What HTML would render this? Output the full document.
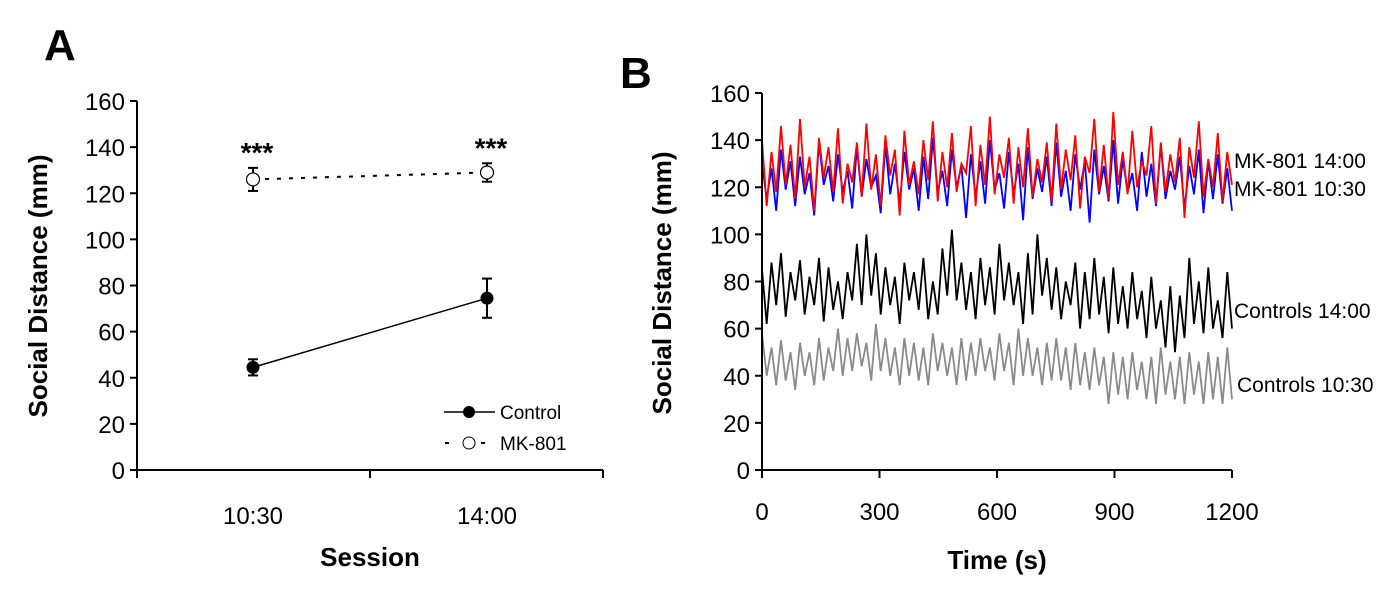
<!DOCTYPE html>
<html><head><meta charset="utf-8"><style>
html,body{margin:0;padding:0;background:#fff;}
svg{display:block;font-family:"Liberation Sans",Arial,sans-serif;}
</style></head><body>
<svg id="chart" width="1397" height="590" viewBox="0 0 1397 590">
<text x="44" y="60" font-size="44" font-weight="bold">A</text>
<text x="620" y="88" font-size="44" font-weight="bold">B</text>
<g id="pa"></g>
<g id="pb"></g>
</svg>
<script>
// Panel A data
const sessions = ["10:30","14:00"];
const controlMean = [44.5, 74.5];
const controlErr = [3.5, 8.5];
const mkMean = [126, 129];
const mkErr = [5, 4];
const yTicksA = [0,20,40,60,80,100,120,140,160];
// Panel B data
const yTicksB = [0,20,40,60,80,100,120,140,160];
const xTicksB = [0,300,600,900,1200];
const mk1400 = [140,112,135,118,146,121,138,115,149,120,133,110,141,124,137,118,145,113,130,122,139,116,147,119,134,112,142,125,136,108,144,121,131,117,140,123,148,114,135,120,143,118,130,126,146,112,138,121,150,117,134,124,141,113,137,120,145,116,132,122,139,114,147,119,136,123,142,111,133,126,149,118,138,115,152,121,135,117,144,120,131,125,146,113,139,118,134,122,141,107,137,124,148,116,132,120,143,114,135,121];
const mk1030 = [130,115,128,110,136,119,131,112,133,117,126,108,139,121,129,114,134,118,127,111,137,116,132,120,125,109,138,117,130,113,135,119,128,110,133,115,141,118,127,112,136,120,129,107,134,116,131,113,140,119,126,111,135,117,130,106,137,115,128,118,133,112,139,116,127,110,134,119,131,105,136,117,129,114,140,113,132,118,126,110,135,116,130,112,138,115,127,119,133,111,129,117,136,109,131,115,134,113,128,110];
const ctl1400 = [85,62,88,70,92,65,84,72,89,66,82,70,90,63,86,68,80,64,84,72,96,70,100,74,92,66,86,70,82,62,88,72,84,68,90,64,80,66,94,74,102,72,88,68,84,64,90,70,86,66,96,72,88,70,84,62,92,66,100,74,90,68,86,64,80,70,88,60,84,64,90,66,82,58,86,62,78,60,84,64,76,56,82,60,72,52,78,50,74,56,90,62,80,58,86,60,72,56,84,60];
const ctl1030 = [58,40,52,36,55,38,50,34,54,40,50,36,56,38,52,42,60,40,56,42,58,44,54,38,62,42,56,40,52,36,56,40,54,38,52,36,58,42,54,40,52,36,56,38,54,40,56,42,52,38,58,42,54,36,60,40,56,40,52,36,54,38,56,38,52,34,54,36,50,34,52,36,48,28,50,32,48,30,50,34,46,30,48,28,52,32,46,30,48,28,50,32,46,28,50,30,48,28,52,30];
const seriesB = [
 {name:"controls-1030", data:ctl1030, color:"#8a8a8a"},
 {name:"controls-1400", data:ctl1400, color:"#000000"},
 {name:"mk801-1030", data:mk1030, color:"#0000ff"},
 {name:"mk801-1400", data:mk1400, color:"#ff0000"}
];

const NS="http://www.w3.org/2000/svg";
function mk(tag,attrs,parent,text){const e=document.createElementNS(NS,tag);for(const k in attrs)e.setAttribute(k,attrs[k]);if(text!==undefined)e.textContent=text;parent.appendChild(e);return e;}

// ---- Panel A ----
const pa=document.getElementById('pa');
const ax0=137, ax1=603, ay0=470, ay1=101;
const yA=v=>ay0-(v/160)*(ay0-ay1);
const xA=i=>[253,487][i];
let e;
e=mk('line',{x1:ax0,y1:ay1,x2:ax0,y2:ay0,stroke:'#000','stroke-width':2},pa);


e=mk('line',{x1:ax0,y1:ay0,x2:ax1,y2:ay0,stroke:'#000','stroke-width':2},pa);


[ax0,370,ax1].forEach(x=>{mk('line',{x1:x,y1:ay0,x2:x,y2:ay0+8,stroke:'#000','stroke-width':2},pa);});
yTicksA.forEach(t=>{
  mk('line',{x1:ax0-7,y1:yA(t),x2:ax0,y2:yA(t),stroke:'#000','stroke-width':2},pa);
  e=mk('text',{x:ax0-12,y:yA(t)+9,'font-size':24,'text-anchor':'end'},pa,t);
  
  
});
sessions.forEach((s,i)=>{
  e=mk('text',{x:xA(i),y:524,'font-size':24,'text-anchor':'middle'},pa,s);
  
  
  e=mk('text',{x:xA(i)+4,y:yA(mkMean[i]+mkErr[i])-6,'font-size':28,'font-weight':'bold','text-anchor':'middle'},pa,'***');
  
  
});
e=mk('text',{x:370,y:566,'font-size':26,'font-weight':'bold','text-anchor':'middle'},pa,'Session');


e=mk('text',{x:0,y:0,'font-size':26,'font-weight':'bold','text-anchor':'middle',transform:'translate(47,286) rotate(-90)'},pa,'Social Distance (mm)');


e=mk('line',{x1:xA(0),y1:yA(controlMean[0]),x2:xA(1),y2:yA(controlMean[1]),stroke:'#000','stroke-width':1.5},pa);


e=mk('line',{x1:xA(0),y1:yA(mkMean[0]),x2:xA(1),y2:yA(mkMean[1]),stroke:'#000','stroke-width':2,'stroke-dasharray':'4,8'},pa);


function errbar(i,m,er){
  const x=xA(i);
  mk('line',{x1:x,y1:yA(m-er),x2:x,y2:yA(m+er),stroke:'#000','stroke-width':2},pa);
  mk('line',{x1:x-5,y1:yA(m-er),x2:x+5,y2:yA(m-er),stroke:'#000','stroke-width':2},pa);
  mk('line',{x1:x-5,y1:yA(m+er),x2:x+5,y2:yA(m+er),stroke:'#000','stroke-width':2},pa);
}
for(let i=0;i<2;i++){
  errbar(i,controlMean[i],controlErr[i]);
  e=mk('circle',{cx:xA(i),cy:yA(controlMean[i]),r:6.5,fill:'#000'},pa);
  
  
  errbar(i,mkMean[i],mkErr[i]);
  e=mk('circle',{cx:xA(i),cy:yA(mkMean[i]),r:6.5,fill:'#fff',stroke:'#000','stroke-width':1.2},pa);
  
  
}
const lg=mk('g',{},pa);


mk('line',{x1:444,y1:412,x2:495,y2:412,stroke:'#000','stroke-width':1.5},lg);
mk('circle',{cx:469,cy:412,r:6,fill:'#000'},lg);
e=mk('text',{x:500,y:419,'font-size':19},lg,'Control');


mk('line',{x1:445,y1:443,x2:495,y2:443,stroke:'#000','stroke-width':2,'stroke-dasharray':'4,14'},lg);
mk('circle',{cx:469,cy:443,r:6,fill:'#fff',stroke:'#000'},lg);
e=mk('text',{x:500,y:450,'font-size':19},lg,'MK-801');



// ---- Panel B ----
const pb=document.getElementById('pb');
const bx0=762, bx1=1232, by0=470, by1=93;
const yB=v=>by0-(v/160)*(by0-by1);
const xB=t=>bx0+(t/1200)*(bx1-bx0);
seriesB.forEach(s=>{
  const n=s.data.length;
  const pts=s.data.map((v,i)=>xB(i*1200/(n-1)).toFixed(1)+','+yB(v).toFixed(1)).join(' ');
  e=mk('polyline',{points:pts,fill:'none',stroke:s.color,'stroke-width':1.8,'stroke-linejoin':'miter'},pb);
  
  
});
e=mk('line',{x1:bx0,y1:by1,x2:bx0,y2:by0,stroke:'#000','stroke-width':2},pb);


e=mk('line',{x1:bx0,y1:by0,x2:bx1,y2:by0,stroke:'#000','stroke-width':2},pb);


yTicksB.forEach(t=>{
  mk('line',{x1:bx0-7,y1:yB(t),x2:bx0,y2:yB(t),stroke:'#000','stroke-width':2},pb);
  e=mk('text',{x:bx0-12,y:yB(t)+9,'font-size':24,'text-anchor':'end'},pb,t);
  
  
});
xTicksB.forEach(t=>{
  mk('line',{x1:xB(t),y1:by0,x2:xB(t),y2:by0+8,stroke:'#000','stroke-width':2},pb);
  e=mk('text',{x:xB(t),y:520,'font-size':24,'text-anchor':'middle'},pb,t);
  
  
});
e=mk('text',{x:997,y:569,'font-size':26,'font-weight':'bold','text-anchor':'middle'},pb,'Time (s)');


e=mk('text',{x:0,y:0,'font-size':26,'font-weight':'bold','text-anchor':'middle',transform:'translate(671,283) rotate(-90)'},pb,'Social Distance (mm)');


[["MK-801 14:00",1234,168],["MK-801 10:30",1234,196],["Controls 14:00",1234,318],["Controls 10:30",1237,392]].forEach(l=>{
  e=mk('text',{x:l[1],y:l[2],'font-size':21},pb,l[0]);
  
  
});
</script>
</body></html>
